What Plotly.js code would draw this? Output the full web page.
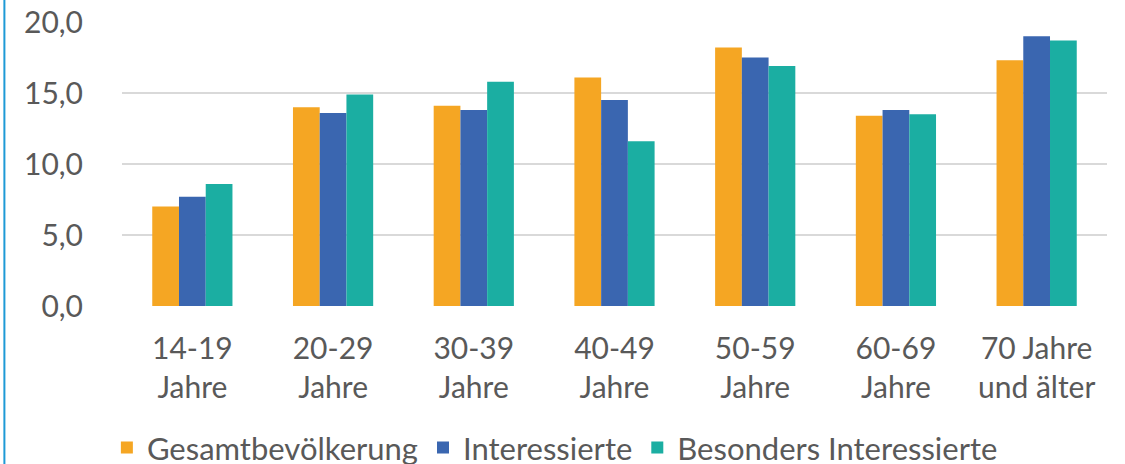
<!DOCTYPE html>
<html>
<head>
<meta charset="utf-8">
<script src="https://cdn.plot.ly/plotly-3.0.1.min.js"></script>
<style>
html, body { margin: 0; padding: 0; background: #ffffff; }
#chart { width: 1125px; height: 464px; }
</style>
</head>
<body>
<div id="chart"></div>
<script>
const categories = ["14-19<br>Jahre", "20-29<br>Jahre", "30-39<br>Jahre", "40-49<br>Jahre", "50-59<br>Jahre", "60-69<br>Jahre", "70 Jahre<br>und älter"];
const seriesNames = ["Gesamtbevölkerung", "Interessierte", "Besonders Interessierte"];
const gesamt = [7.0, 14.0, 14.1, 16.1, 18.2, 13.4, 17.3];
const interessierte = [7.7, 13.6, 13.8, 14.5, 17.5, 13.8, 19.0];
const besonders = [8.6, 14.9, 15.8, 11.6, 16.9, 13.5, 18.7];
const tickValues = [0, 5, 10, 15, 20];
const tickLabels = ["0,0", "5,0", "10,0", "15,0", "20,0"];
const colors = ["#F5A623", "#3A66B0", "#1BAEA2"];

const font = "Lato, 'Open Sans', sans-serif";
const textColor = "#595959";

const seriesValues = [gesamt, interessierte, besonders];
const traces = seriesNames.map((name, i) => ({
  type: "bar",
  name: name,
  x: categories,
  y: seriesValues[i],
  marker: { color: colors[i], line: { width: 0 } },
  hoverinfo: "x+y+name"
}));

const layout = {
  width: 1125,
  height: 464,
  margin: { l: 122, r: 18, t: 22, b: 158 },
  paper_bgcolor: "#ffffff",
  plot_bgcolor: "#ffffff",
  font: { family: font, size: 30, color: textColor },
  barmode: "group",
  bargap: 0.43,
  bargroupgap: 0,
  showlegend: true,
  legend: {
    orientation: "h",
    xref: "container",
    yref: "container",
    x: 0.095,
    xanchor: "left",
    y: 0.035,
    yanchor: "middle",
    font: { family: font, size: 31, color: textColor },
    itemwidth: 30,
    traceorder: "normal"
  },
  xaxis: {
    type: "category",
    showgrid: false,
    showline: false,
    zeroline: false,
    ticks: "",
    ticklabelstandoff: 22,
    tickfont: { family: font, size: 30, color: textColor },
    automargin: false
  },
  yaxis: {
    range: [0, 20],
    tickvals: tickValues,
    ticktext: tickLabels,
    showgrid: true,
    gridcolor: "#D9D9D9",
    gridwidth: 2,
    zeroline: false,
    showline: false,
    ticks: "",
    ticklabelstandoff: 38,
    tickfont: { family: font, size: 30, color: textColor },
    automargin: false
  },
  shapes: [
    {
      type: "line",
      xref: "paper", yref: "paper",
      x0: -0.1194, x1: -0.1194,
      y0: -2, y1: 2,
      line: { color: "#1E9AD6", width: 2 }
    }
  ]
};

Plotly.newPlot("chart", traces, layout, { displayModeBar: false, staticPlot: true });
</script>
</body>
</html>
